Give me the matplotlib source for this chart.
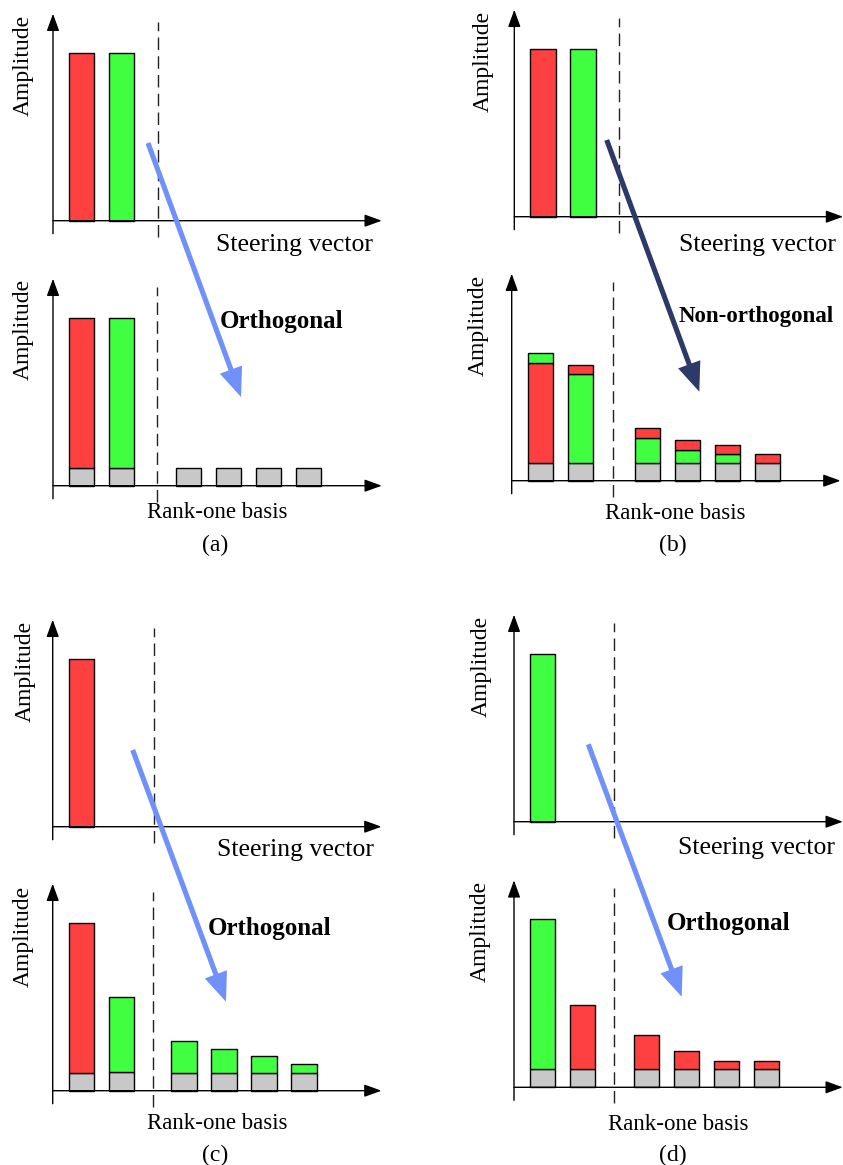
import numpy as np
import matplotlib
matplotlib.use("Agg")
import matplotlib.pyplot as plt
from matplotlib.patches import FancyArrowPatch

plt.rcParams['font.family'] = ['Liberation Serif', 'DejaVu Serif']

W, H = 843, 1165

RED = '#ff4040'
GREEN = '#40ff40'
GRAY = '#c8c8c8'
LIGHT_BLUE = '#7090fa'
NAVY = '#2b3a67'

# -------------------
# Data (amplitude, arbitrary units)
# -------------------
# steering vector domain (top plots)
a_top_red = [16.8, 0.0]
a_top_green = [0.0, 16.8]
b_top_red = [16.8, 0.0]
b_top_green = [0.0, 16.8]
c_top_red = [16.8]
c_top_green = [0.0]
d_top_red = [0.0]
d_top_green = [16.8]

# rank-one basis domain (bottom plots): 2 leading bars + 4 tail bars
a_gray = [1.8, 1.8, 1.8, 1.8, 1.8, 1.8]
a_red = [15.0, 0.0, 0.0, 0.0, 0.0, 0.0]
a_green = [0.0, 15.0, 0.0, 0.0, 0.0, 0.0]

b_gray = [1.74, 1.74, 1.74, 1.74, 1.74, 1.74]
b_red = [10.06, 0.93, 1.0, 0.97, 0.93, 0.93]
b_green = [0.94, 8.9, 2.5, 1.33, 0.9, 0.0]
b_red_first = [True, False, False, False, False, False]

c_gray = [1.8, 1.85, 1.8, 1.8, 1.8, 1.8]
c_red = [14.94, 0.0, 0.0, 0.0, 0.0, 0.0]
c_green = [0.0, 7.5, 3.2, 2.4, 1.7, 0.87]

d_gray = [1.8, 1.8, 1.8, 1.8, 1.8, 1.8]
d_red = [0.0, 6.4, 3.4, 1.8, 0.83, 0.83]
d_green = [15.0, 0.0, 0.0, 0.0, 0.0, 0.0]

# -------------------
# Layout (pixels of the original sketch)
# -------------------
SLOT_PX = 40.0      # bar spacing
UNIT_PX = 10.0      # amplitude unit
AXIS_OFF = -0.72    # y-axis position relative to first bar (slots)
BAR_W = 0.63


def panel_axes(fig, ox, ay):
    """Axes whose data coords: x in slots (bar 0 at 0), y in amplitude units."""
    left, right, top, bottom = ox - 20, ox + 340, ay - 215, ay + 25
    ax = fig.add_axes([left / W, 1 - bottom / H, (right - left) / W, (bottom - top) / H])
    ax.set_xlim(-20 / SLOT_PX + AXIS_OFF, 340 / SLOT_PX + AXIS_OFF)
    ax.set_ylim(-25 / UNIT_PX, 215 / UNIT_PX)
    ax.axis('off')
    return ax


def draw_frame(ax, dash_x):
    arrow_kw = dict(arrowstyle='-|>,head_length=10.5,head_width=3.8', mutation_scale=1,
                    color='black', lw=1.0, shrinkA=0, shrinkB=0)
    ax.annotate('', xy=(AXIS_OFF, 20.7), xytext=(AXIS_OFF, -1.3), arrowprops=arrow_kw)
    ax.annotate('', xy=(7.5, 0), xytext=(AXIS_OFF, 0), arrowprops=arrow_kw)
    ax.plot([dash_x, dash_x], [-1.6, 19.9], color='#222222', lw=1.0,
            ls=(0, (9, 4.5)), clip_on=False)


def draw_bars(ax, x, red, green, gray=None, red_first=None):
    n = len(x)
    base = np.zeros(n) if gray is None else np.array(gray, dtype=float)
    if gray is not None:
        ax.bar(x, gray, width=BAR_W, color=GRAY, edgecolor='black', lw=1.0)
    if red_first is None:
        red_first = [True] * n
    for i in range(n):
        first = (red[i], RED) if red_first[i] else (green[i], GREEN)
        second = (green[i], GREEN) if red_first[i] else (red[i], RED)
        b = base[i]
        for h, c in (first, second):
            if h > 0:
                ax.bar(x[i], h, bottom=b, width=BAR_W, color=c, edgecolor='black', lw=1.0)
                b += h


def big_arrow(ov, start, end, color):
    ov.add_patch(FancyArrowPatch(start, end,
                                 arrowstyle='simple,head_length=21,head_width=17,tail_width=3.7',
                                 mutation_scale=1, color=color, lw=0, shrinkA=0, shrinkB=0))


fig = plt.figure(figsize=(W / 100, H / 100), dpi=100)

panels = [
    # ox, ay, dashed px, tail offset (slots), data
    dict(ox=53, ay=220.7, dash=157.7, red=a_top_red, green=a_top_green),
    dict(ox=53, ay=485.7, dash=157.3, tail=2.67, red=a_red, green=a_green, gray=a_gray),
    dict(ox=514.3, ay=216.7, dash=619.3, red=b_top_red, green=b_top_green),
    dict(ox=511.7, ay=480.7, dash=613.3, tail=2.67, red=b_red, green=b_green, gray=b_gray,
         red_first=b_red_first),
    dict(ox=52.7, ay=826.7, dash=154, red=c_top_red, green=c_top_green),
    dict(ox=52.7, ay=1090.7, dash=153.3, tail=2.56, red=c_red, green=c_green, gray=c_gray),
    dict(ox=514, ay=821.7, dash=614, red=d_top_red, green=d_top_green),
    dict(ox=514, ay=1087.3, dash=614, tail=2.59, red=d_red, green=d_green, gray=d_gray),
]

for p in panels:
    ax = panel_axes(fig, p['ox'], p['ay'])
    n = len(p['red'])
    if 'tail' in p:
        x = np.concatenate([np.arange(2), p['tail'] + np.arange(n - 2)])
    else:
        x = np.arange(n)
    draw_bars(ax, x, p['red'], p['green'], p.get('gray'), p.get('red_first'))
    draw_frame(ax, (p['dash'] - p['ox']) / SLOT_PX + AXIS_OFF)

# overlay for labels and transition arrows (pixel coords)
ov = fig.add_axes([0, 0, 1, 1])
ov.set_xlim(0, W)
ov.set_ylim(H, 0)
ov.axis('off')
ov.set_zorder(10)

amp_pos = [(23, 65), (23.3, 329), (483.3, 61), (478.3, 325),
           (25, 671), (23.3, 936), (481.7, 666), (480, 931)]
for x, y in amp_pos:
    ov.text(x, y, 'Amplitude', rotation=90, ha='center', va='center', fontsize=17)

for x, y in [(294, 245), (757.3, 245), (295.8, 850), (756, 848.3)]:
    ov.text(x, y, 'Steering vector', ha='center', va='center', fontsize=18.5)

for x, y in [(217.5, 513), (675, 513.3), (217.5, 1123.3), (678.3, 1125)]:
    ov.text(x, y, 'Rank-one basis', ha='center', va='center', fontsize=16.5)

for lab, (x, y) in zip(['(a)', '(b)', '(c)', '(d)'],
                       [(215, 545), (673.3, 545), (215, 1155), (673.3, 1155)]):
    ov.text(x, y, lab, ha='center', va='center', fontsize=17)

for lab, (x, y), fs in [('Orthogonal', (281.5, 321.7), 18),
                        ('Non-orthogonal', (755.8, 316.7), 16.5),
                        ('Orthogonal', (269.2, 928.3), 18),
                        ('Orthogonal', (728.3, 923.3), 18)]:
    ov.text(x, y, lab, ha='center', va='center', fontsize=fs, fontweight='bold')

big_arrow(ov, (148, 143), (241, 397), LIGHT_BLUE)
big_arrow(ov, (606.7, 140), (699.3, 391.7), NAVY)
big_arrow(ov, (132.7, 750), (226, 1001.7), LIGHT_BLUE)
big_arrow(ov, (588.3, 744.3), (681.7, 996.7), LIGHT_BLUE)

fig.savefig('out.png', dpi=100)
